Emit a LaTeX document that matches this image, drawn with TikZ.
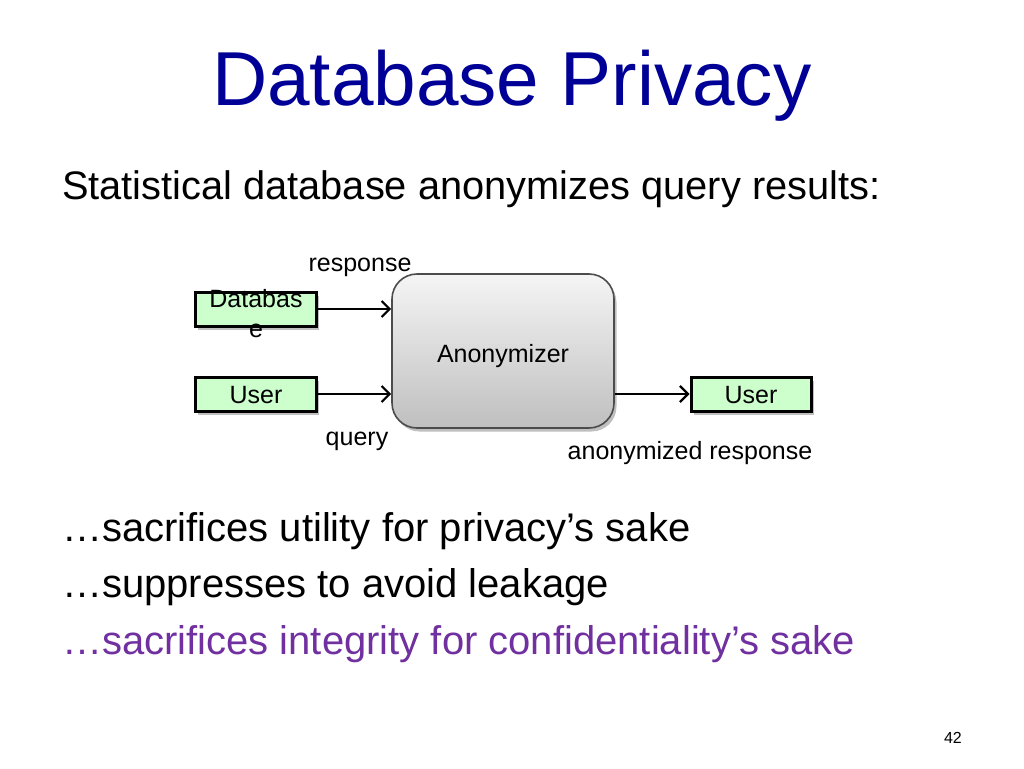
\documentclass[tikz,border=0pt]{standalone}
\usepackage{fontspec}
\setmainfont{Liberation Sans}
\usetikzlibrary{shadows,arrows.meta}
\definecolor{titleblue}{RGB}{0,0,150}
\definecolor{purp}{RGB}{112,48,160}
\definecolor{boxgreen}{RGB}{204,255,204}
\begin{document}
\begin{tikzpicture}[x=1pt,y=-1pt,
  txt/.style={anchor=base west,inner sep=0pt,outer sep=0pt},
  greenbox/.style={draw=black,line width=3pt,fill=boxgreen,minimum width=121pt,minimum height=34pt,inner sep=0pt,
     drop shadow={shadow xshift=2.5pt,shadow yshift=-3.5pt,opacity=0.5}},
  anonbox/.style={draw=black!70,line width=1.6pt,rounded corners=25pt,top color=black!4,bottom color=black!25,
     minimum width=222pt,minimum height=154pt,inner sep=0pt,
     drop shadow={shadow xshift=2.5pt,shadow yshift=-3.5pt,opacity=0.5}},
  conn/.style={line width=2.2pt,-{Straight Barb[length=8pt,width=16pt,line width=2.2pt]}},
  dfont/.style={font=\fontsize{25}{30}\selectfont}
]
\useasboundingbox[fill=white] (0,0) rectangle (1024,768);
% title
\node[txt,text=titleblue,font=\fontsize{76.5}{90}\selectfont] (title) at (212,105) {Database Privacy};
\node[txt,font=\fontsize{39.8}{48}\selectfont] (sub) at (62,199) {Statistical database anonymizes query results:};
% diagram
\node[greenbox] (db) at (255.5,309) {};
\node[dfont,align=center,inner sep=0pt] (dbtxt) at (256,314) {\fontsize{25}{30}\selectfont Databas\\ e};
\node[greenbox] (u1) at (255.5,394) {};
\node[dfont,inner sep=0pt,anchor=base] (u1txt) at (256,403) {User};
\node[anonbox] (an) at (503,351) {};
\node[dfont,inner sep=0pt,anchor=base] (antxt) at (503,362) {Anonymizer};
\node[greenbox,minimum width=120pt] (u2) at (751,394) {};
\node[dfont,inner sep=0pt,anchor=base] (u2txt) at (751,403) {User};
\draw[conn] (db.east) -- (db.east -| an.west);
\draw[conn] (u1.east) -- (u1.east -| an.west);
\draw[conn] (u2.west -| an.east) -- (u2.west);
\node[dfont,inner sep=0pt,anchor=base] (resp) at (360,271) {response};
\node[dfont,inner sep=0pt,anchor=base] (qry) at (357,445) {query};
\node[dfont,inner sep=0pt,anchor=base] (aresp) at (690,459) {anonymized response};
% bullets
\node[txt,font=\fontsize{40}{48}\selectfont] (b1) at (62,541) {…sacrifices utility for privacy’s sake};
\node[txt,font=\fontsize{40}{48}\selectfont] (b2) at (62,597) {…suppresses to avoid leakage};
\node[txt,text=purp,font=\fontsize{40}{48}\selectfont] (b3) at (62,654) {…sacrifices integrity for confidentiality’s sake};
\node[txt,font=\fontsize{16}{19}\selectfont] (pg) at (944,743) {42};
\end{tikzpicture}
\end{document}
